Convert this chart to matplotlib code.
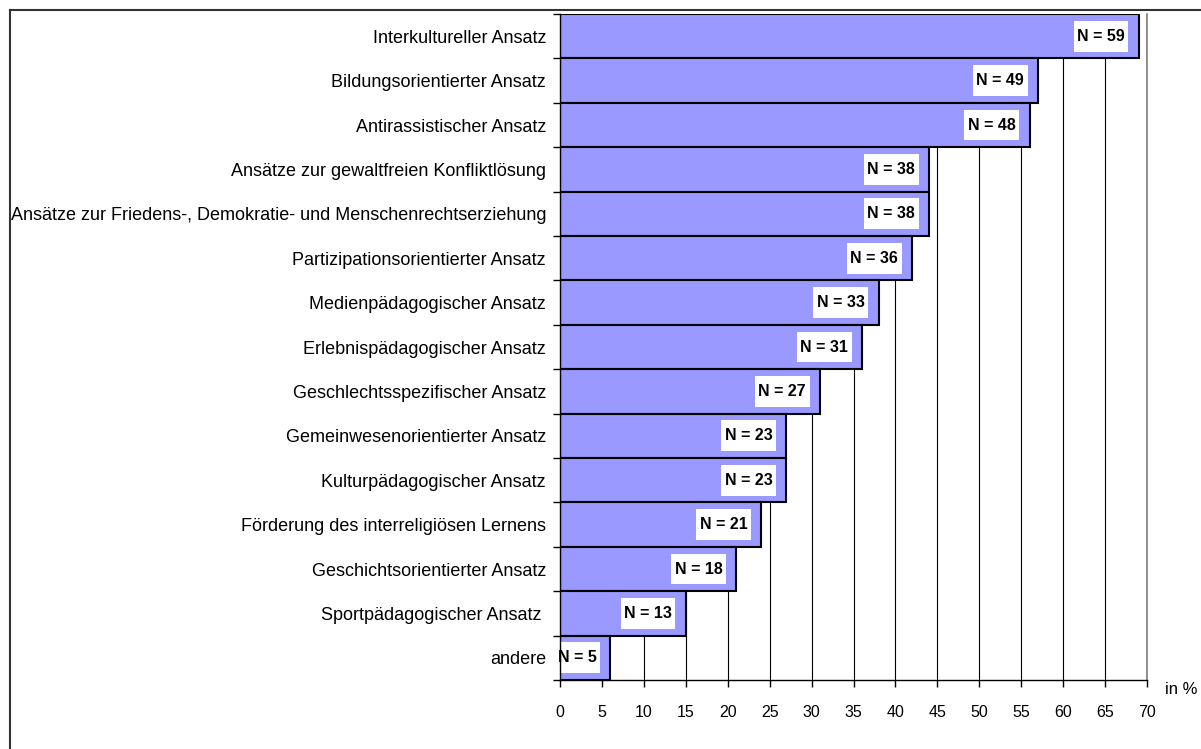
import matplotlib.pyplot as plt
import numpy as np
from matplotlib.lines import Line2D
from matplotlib.path import Path

plt.rcParams['font.family'] = ['Liberation Sans', 'DejaVu Sans']

kategorien = [
    "Interkultureller Ansatz",
    "Bildungsorientierter Ansatz",
    "Antirassistischer Ansatz",
    "Ansätze zur gewaltfreien Konfliktlösung",
    "Ansätze zur Friedens-, Demokratie- und Menschenrechtserziehung",
    "Partizipationsorientierter Ansatz",
    "Medienpädagogischer Ansatz",
    "Erlebnispädagogischer Ansatz",
    "Geschlechtsspezifischer Ansatz",
    "Gemeinwesenorientierter Ansatz",
    "Kulturpädagogischer Ansatz",
    "Förderung des interreligiösen Lernens",
    "Geschichtsorientierter Ansatz",
    "Sportpädagogischer Ansatz ",
    "andere",
]
prozent = [69, 57, 56, 44, 44, 42, 38, 36, 31, 27, 27, 24, 21, 15, 6]
anzahl = [59, 49, 48, 38, 38, 36, 33, 31, 27, 23, 23, 21, 18, 13, 5]


def label_box(x0, y0, width, height, mutation_size):
    # weisser Kasten, oben/unten mehr Rand als seitlich
    px = 0.22 * mutation_size
    py = 0.5 * mutation_size
    verts = [(x0 - px, y0 - py), (x0 + width + px, y0 - py),
             (x0 + width + px, y0 + height + py), (x0 - px, y0 + height + py),
             (x0 - px, y0 - py)]
    return Path(verts, closed=True)


fig = plt.figure(figsize=(12.01, 7.49), dpi=100)
ax = fig.add_axes([560 / 1201, 1 - 680 / 749, 587 / 1201, 666 / 749])

# Rahmen um die Grafik (nur oben und links sichtbar)
fig.add_artist(Line2D([9.5 / 1201, 9.5 / 1201], [0, 1 - 10 / 749], transform=fig.transFigure,
                      color='#333333', lw=1.5))
fig.add_artist(Line2D([9.5 / 1201, 1], [1 - 10 / 749, 1 - 10 / 749], transform=fig.transFigure,
                      color='#333333', lw=1.5))

y = np.arange(len(kategorien))
ax.barh(y, prozent, height=1.0, color='#9999FF', edgecolor='black', linewidth=1.5, zorder=3)

for yi, p, n in zip(y, prozent, anzahl):
    ax.text(p - 1.65, yi, "N = %d" % n, ha='right', va='center', fontsize=11.5,
            fontweight='bold', zorder=4,
            bbox=dict(boxstyle=label_box, facecolor='white', edgecolor='none'))

ax.set_xlim(0, 70)
ax.set_ylim(len(kategorien) - 0.5, -0.5)
ax.set_xticks(np.arange(0, 71, 5))
ax.set_yticks(y)
ax.set_yticklabels(kategorien, fontsize=13)
ax.set_yticks(np.arange(-0.5, len(kategorien), 1), minor=True)
ax.tick_params(axis='y', which='major', length=0, pad=10)
ax.tick_params(axis='y', which='minor', length=5, width=1, direction='out')
ax.tick_params(axis='x', length=5, width=1, direction='out', labelsize=11.5, pad=13)

ax.grid(axis='x', color='black', linewidth=0.8, zorder=0)
ax.axvline(70, color='#808080', linewidth=1.2, zorder=0, clip_on=False)
for s in ['top', 'right']:
    ax.spines[s].set_visible(False)
ax.spines['left'].set_linewidth(1)
ax.spines['bottom'].set_linewidth(1)
ax.spines['left'].set_zorder(5)

ax.text(1.03, -0.003, "in %", transform=ax.transAxes, fontsize=12, ha='left', va='top')

fig.savefig("out.png", dpi=100)
